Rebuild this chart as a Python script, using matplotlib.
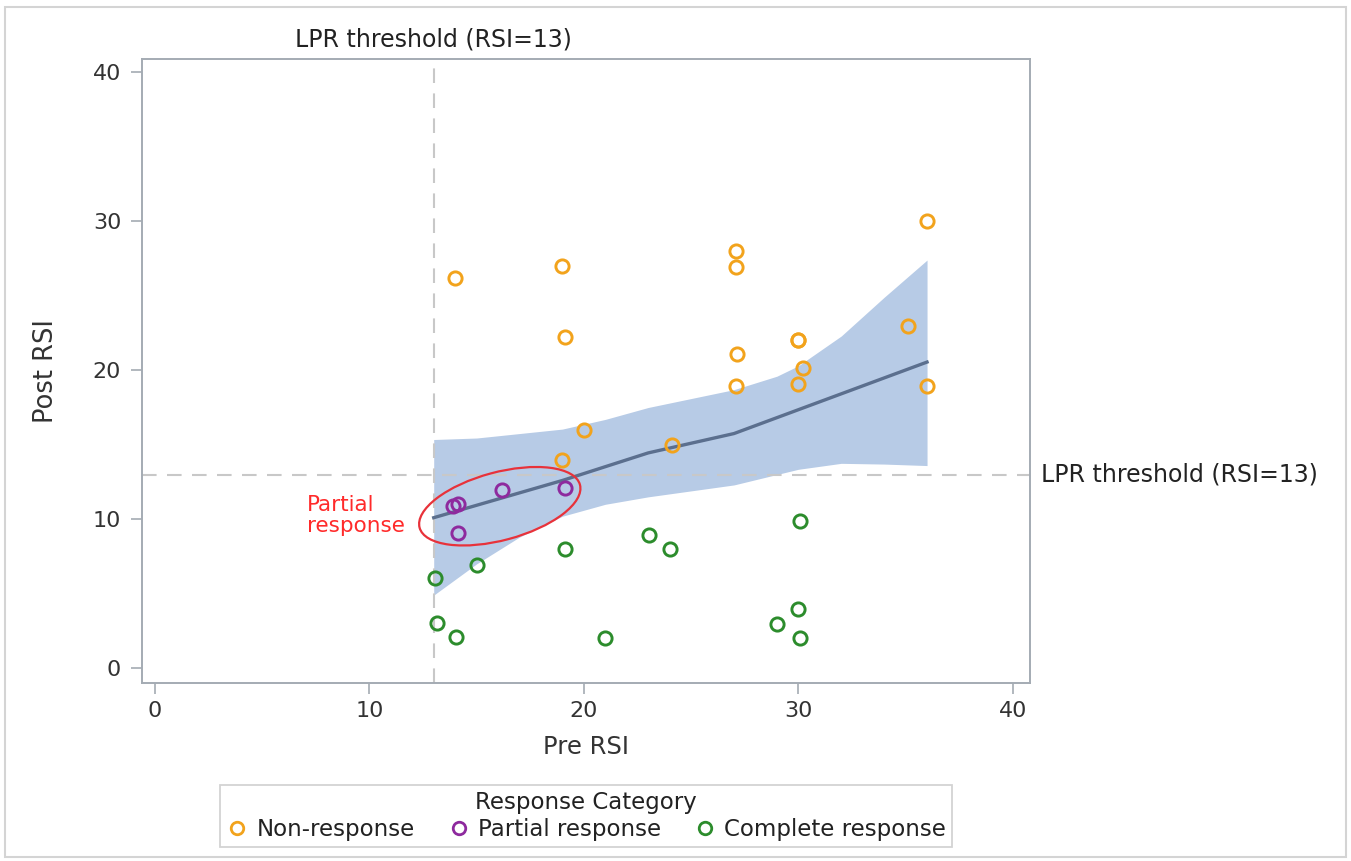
import matplotlib
matplotlib.use("Agg")
import matplotlib.pyplot as plt
import matplotlib.transforms as mtransforms
from matplotlib.patches import Ellipse, Rectangle
from matplotlib.lines import Line2D

# ---------------- data ----------------
non_x = [14.0, 19.0, 19.1, 20.0, 19.0, 24.1, 27.1, 27.1, 27.15, 27.1, 30.0, 30.0, 30.2, 30.0, 35.1, 36.0, 36.0]
non_y = [26.2, 27.0, 22.2, 16.0, 14.0, 15.0, 28.0, 26.9, 21.1, 18.95, 22.0, 22.0, 20.15, 19.05, 23.0, 30.0, 18.95]

par_x = [13.9, 14.15, 14.15, 16.2, 19.1]
par_y = [10.9, 11.05, 9.1, 11.95, 12.1]

com_x = [13.05, 13.15, 14.05, 15.0, 19.1, 21.0, 23.05, 24.0, 29.0, 30.0, 30.1, 30.1]
com_y = [6.05, 3.05, 2.1, 6.9, 8.0, 2.0, 8.95, 8.0, 2.95, 3.95, 2.0, 9.9]

fit_x = [13, 16, 19, 23, 27, 30, 33, 36]
fit_y = [10.1, 11.35, 12.6, 14.45, 15.75, 17.35, 18.95, 20.55]

band_x = [13, 15, 17, 19, 21, 23, 25, 27, 29, 30, 32, 34, 36]
band_lo = [4.9, 7.0, 8.8, 10.2, 11.0, 11.5, 11.9, 12.3, 13.0, 13.35, 13.75, 13.7, 13.6]
band_hi = [15.35, 15.45, 15.75, 16.05, 16.7, 17.5, 18.1, 18.7, 19.6, 20.3, 22.3, 24.9, 27.4]

threshold = 13
x_ticks = [0, 10, 20, 30, 40]
y_ticks = [0, 10, 20, 30, 40]
categories = ["Non-response", "Partial response", "Complete response"]
colors = ["#f2a31c", "#8e2a9e", "#2c8c2c"]

# ---------------- figure ----------------
W, H = 1351, 861
fig = plt.figure(figsize=(W / 100, H / 100), dpi=100)
fig.patch.set_facecolor("white")
fig.patches.append(Rectangle((5 / W, 1 - 857 / H), 1341 / W, 850 / H, transform=fig.transFigure,
                             fill=False, edgecolor="#d4d4d4", linewidth=1.5, zorder=0))

ax = fig.add_axes([142 / W, 1 - 683 / H, 888 / W, 624 / H])
ax.set_xlim(-0.6, 40.8)
ax.set_ylim(-1.0, 40.9)

spine_col = "#a4abb3"
for s in ax.spines.values():
    s.set_color(spine_col)
    s.set_linewidth(1.4)

ax.fill_between(band_x, band_lo, band_hi, color="#b7cbe6", linewidth=0, zorder=1)
ax.plot(fit_x, fit_y, color="#5b6f8e", linewidth=2.4, zorder=2)

ax.axvline(threshold, color="#c8c8c8", linewidth=1.5, dashes=(7, 5), zorder=1.5)
ax.axhline(threshold, color="#c8c8c8", linewidth=1.5, dashes=(7, 5), zorder=1.5)

mk = dict(marker="o", linestyle="none", markersize=9.5, markerfacecolor="none", markeredgewidth=2.1, zorder=3)
ax.plot(non_x, non_y, markeredgecolor=colors[0], **mk)
ax.plot(par_x, par_y, markeredgecolor=colors[1], **mk)
ax.plot(com_x, com_y, markeredgecolor=colors[2], **mk)

ax.set_xticks(x_ticks)
ax.set_yticks(y_ticks)
ax.tick_params(axis="both", direction="out", length=8, width=1.2, color=spine_col,
               labelsize=16, labelcolor="#333333", pad=7)
ax.tick_params(axis="x", pad=5)

ax.set_xlabel("Pre RSI", fontsize=17.5, color="#333333", labelpad=10)
ax.set_ylabel("Post RSI", fontsize=18.5, color="#333333", labelpad=24)

# threshold labels
ax.text(threshold, 41.4, "LPR threshold (RSI=13)", ha="center", va="bottom",
        fontsize=17, color="#222222", clip_on=False)
ax.text(41.3, threshold, "LPR threshold (RSI=13)", ha="left", va="center",
        fontsize=17, color="#222222", clip_on=False)

# ellipse annotation
ell_tr = fig.dpi_scale_trans + mtransforms.ScaledTranslation(16.08, 10.87, ax.transData)
ax.add_patch(Ellipse((0, 0), width=1.66, height=0.68, angle=15, transform=ell_tr,
                     fill=False, edgecolor="#e8323a", linewidth=1.6, zorder=4))
ax.text(7.1, 10.25, "Partial\nresponse", ha="left", va="center", fontsize=15.5,
        color="#ff2a2a", linespacing=1.05)

# legend
handles = [Line2D([], [], marker="o", linestyle="none", markersize=9, markerfacecolor="none",
                  markeredgewidth=2.0, markeredgecolor=c) for c in colors]
leg = fig.legend(handles, categories, loc="center", bbox_to_anchor=(586 / W, 1 - 816 / H),
                 ncol=3, title="Response Category", fontsize=16.5, title_fontsize=16.5,
                 frameon=True, fancybox=False, edgecolor="#c8c8c8", handletextpad=0.35,
                 columnspacing=1.4, borderpad=0.25, handlelength=1.0, labelspacing=0.2,
                 borderaxespad=0)
leg.get_frame().set_linewidth(1.3)
for t in leg.get_texts():
    t.set_color("#222222")
leg.get_title().set_color("#222222")

fig.savefig("out.png", dpi=100, facecolor="white")
